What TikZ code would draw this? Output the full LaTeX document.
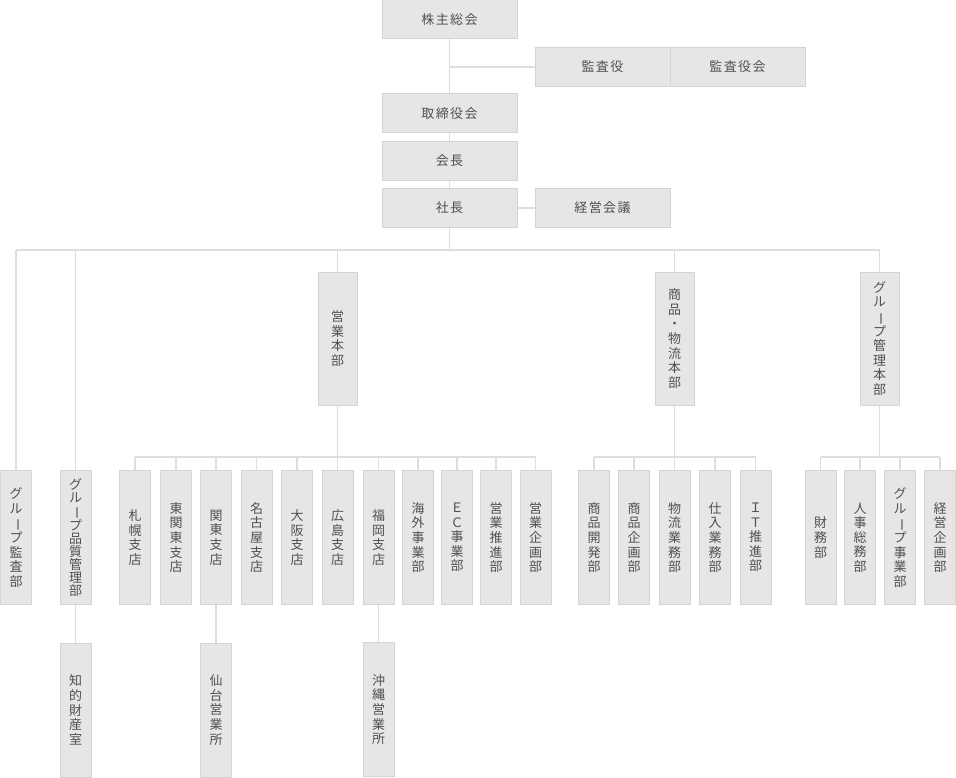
\documentclass[tikz,border=0pt]{standalone}
\usepackage{fontspec}
\usepackage{xcolor}
\usetikzlibrary{positioning, calc}
\newfontfamily\jpfont{Noto Sans CJK JP}
\newfontfamily\jpspaced[LetterSpace=11]{Noto Sans CJK JP}
\definecolor{boxfill}{HTML}{E6E6E6}
\definecolor{boxline}{HTML}{D4D4D4}
\definecolor{connline}{HTML}{DEDEDE}
\definecolor{boxtext}{HTML}{505050}
\newcommand{\vbar}{\rotatebox[origin=c]{-90}{ー}}

\begin{document}
\begin{tikzpicture}[x=1pt, y=-1pt,
    hbox/.style={draw=boxline, fill=boxfill, line width=1pt, minimum width=135pt, minimum height=39pt,
        inner sep=0pt, text=boxtext, font=\jpspaced\fontsize{13}{14}\selectfont},
    vbox/.style={draw=boxline, fill=boxfill, line width=1pt, minimum width=39pt, minimum height=133pt,
        inner sep=0pt, align=center, text=boxtext, font=\jpfont\fontsize{13}{14.6}\selectfont},
    sbox/.style={vbox, minimum width=31pt, minimum height=134pt},
    tight/.style={font=\jpfont\fontsize{13}{12.9}\selectfont},
    conn/.style={draw=connline, line width=1.3pt}]
    \useasboundingbox (0,0) rectangle (956,778);

    % Top management
    \node[hbox] (kabunushi) at (449.5,19.5) {株主総会};
    \node[hbox] (kansayaku) at (602.5,67) {監査役};
    \node[hbox] (kansayakukai) at (737.5,67) {監査役会};
    \node[hbox] (torishimari) at (449.5,113.5) {取締役会};
    \node[hbox] (kaicho) at (449.5,161) {会長};
    \node[hbox] (shacho) at (449.5,208) {社長};
    \node[hbox] (keiei) at (602.5,208) {経営会議};

    \coordinate (kansaJoint) at (449.5,67);
    \draw[conn] (kabunushi) -- (torishimari);
    \draw[conn] (kansaJoint) -- (kansayaku);
    \draw[conn] (torishimari) -- (kaicho);
    \draw[conn] (kaicho) -- (shacho);
    \draw[conn] (shacho) -- (keiei);

    % Headquarters
    \node[vbox] (eigyo) at (337.5,338.5) {営\\業\\本\\部};
    \node[vbox] (shohin) at (674.5,338.5) {商\\品\\・\\物\\流\\本\\部};
    \node[vbox] (gkanri) at (879.5,338.5) {グ\\ル\\\vbar\\プ\\管\\理\\本\\部};

    % Departments directly under the president
    \node[sbox] (gkansa) at (16,537.5) {グ\\ル\\\vbar\\プ\\監\\査\\部};
    \node[sbox, tight] (ghinshitsu) at (75.5,537.5) {グ\\ル\\\vbar\\プ\\品\\質\\管\\理\\部};

    \coordinate (topBar) at (449.5,250);
    \draw[conn] (shacho) -- (topBar);
    \draw[conn] (gkansa.north |- topBar) -- (gkanri.north |- topBar);
    \foreach \n in {gkansa, ghinshitsu, eigyo, shohin, gkanri}
        \draw[conn] (\n.north |- topBar) -- (\n.north);

    % Sales branches
    \foreach \n/\x/\t in {sapporo/135/{札\\幌\\支\\店}, higashikanto/176/{東\\関\\東\\支\\店},
        kanto/216/{関\\東\\支\\店}, nagoya/256.5/{名\\古\\屋\\支\\店}, osaka/297/{大\\阪\\支\\店},
        hiroshima/337.5/{広\\島\\支\\店}, fukuoka/378.5/{福\\岡\\支\\店}, kaigai/418/{海\\外\\事\\業\\部},
        ec/457/{Ｅ\\Ｃ\\事\\業\\部}, suishin/496/{営\\業\\推\\進\\部}, ekikaku/535.5/{営\\業\\企\\画\\部}}
        \node[sbox] (\n) at (\x,537.5) {\t};

    \coordinate (eigyoBar) at (337.5,457);
    \draw[conn] (eigyo) -- (hiroshima);
    \draw[conn] (sapporo.north |- eigyoBar) -- (ekikaku.north |- eigyoBar);
    \foreach \n in {sapporo, higashikanto, kanto, nagoya, osaka, fukuoka, kaigai, ec, suishin, ekikaku}
        \draw[conn] (\n.north |- eigyoBar) -- (\n.north);

    % Merchandise and logistics
    \foreach \n/\x/\t in {kaihatsu/594/{商\\品\\開\\発\\部}, skikaku/634/{商\\品\\企\\画\\部},
        butsuryu/674.5/{物\\流\\業\\務\\部}, shiire/715/{仕\\入\\業\\務\\部}, it/755.5/{Ｉ\\Ｔ\\推\\進\\部}}
        \node[sbox] (\n) at (\x,537.5) {\t};

    \coordinate (shohinBar) at (674.5,457);
    \draw[conn] (shohin) -- (butsuryu);
    \draw[conn] (kaihatsu.north |- shohinBar) -- (it.north |- shohinBar);
    \foreach \n in {kaihatsu, skikaku, shiire, it}
        \draw[conn] (\n.north |- shohinBar) -- (\n.north);

    % Group management
    \foreach \n/\x/\t in {zaimu/820.5/{財\\務\\部}, jinji/860/{人\\事\\総\\務\\部},
        gjigyo/900/{グ\\ル\\\vbar\\プ\\事\\業\\部}, keikaku/940/{経\\営\\企\\画\\部}}
        \node[sbox] (\n) at (\x,537.5) {\t};

    \coordinate (gkanriBar) at (879.5,457);
    \draw[conn] (gkanri) -- (gkanriBar);
    \draw[conn] (zaimu.north |- gkanriBar) -- (keikaku.north |- gkanriBar);
    \foreach \n in {zaimu, jinji, gjigyo, keikaku}
        \draw[conn] (\n.north |- gkanriBar) -- (\n.north);

    % Offices below
    \node[sbox] (chizai) at (75.5,710) {知\\的\\財\\産\\室};
    \node[sbox] (sendai) at (216,710) {仙\\台\\営\\業\\所};
    \node[sbox] (okinawa) at (378.5,709.5) {沖\\縄\\営\\業\\所};
    \draw[conn] (ghinshitsu) -- (chizai);
    \draw[conn] (kanto) -- (sendai);
    \draw[conn] (fukuoka) -- (okinawa);
\end{tikzpicture}
\end{document}
